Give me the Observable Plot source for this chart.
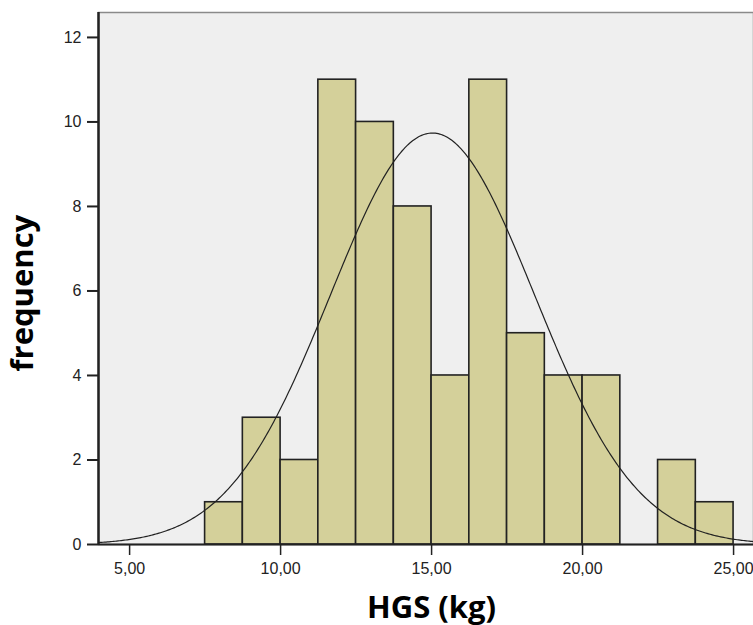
<!DOCTYPE html>
<html>
<head>
<meta charset="utf-8">
<script src="https://cdn.jsdelivr.net/npm/d3@7"></script>
<script src="https://cdn.jsdelivr.net/npm/@observablehq/plot@0.6"></script>
<style>
  html, body { margin: 0; padding: 0; background: #fff; }
  #chart svg { display: block; }
</style>
</head>
<body>
<div id="chart"></div>
<script>
// Histogram bins (HGS, kg), bin width 1.25
const binStarts = [7.5, 8.75, 10, 11.25, 12.5, 13.75, 15, 16.25, 17.5, 18.75, 20, 21.25, 22.5, 23.75];
const binWidth = 1.25;
const counts = [1, 3, 2, 11, 10, 8, 4, 11, 5, 4, 4, 0, 2, 1];
// Fitted normal curve parameters
const fitMean = 15.03;
const fitSD = 3.38;
const xTicks = [5, 10, 15, 20, 25];
const yTicks = [0, 2, 4, 6, 8, 10, 12];
const xTitle = "HGS (kg)";
const yTitle = "frequency";

const bars = binStarts.map((s, i) => ({x1: s, x2: s + binWidth, y: counts[i]}));
const nTotal = d3.sum(counts);
const curveX = d3.range(3.97, 25.7, 0.05);
const curve = curveX.map(x => ({
  x,
  y: nTotal * binWidth / (fitSD * Math.sqrt(2 * Math.PI)) * Math.exp(-((x - fitMean) ** 2) / (2 * fitSD * fitSD))
}));
const fmt = d => d.toFixed(2).replace(".", ",");

const chart = Plot.plot({
  width: 753,
  height: 625,
  marginLeft: 98,
  marginRight: 0,
  marginTop: 12,
  marginBottom: 81,
  style: {fontFamily: "'Liberation Sans', Arial, sans-serif", background: "#fff"},
  x: {domain: [3.97, 25.66]},
  y: {domain: [0, 12.59]},
  marks: [
    Plot.frame({fill: "#efefef", stroke: "#8a8a8a", strokeWidth: 1.5}),
    Plot.rectY(bars, {x1: "x1", x2: "x2", y: "y", fill: "#d4d09a", stroke: "#222", strokeWidth: 1.6}),
    Plot.line(curve, {x: "x", y: "y", stroke: "#222", strokeWidth: 1.2}),
    Plot.ruleY([0], {stroke: "#222", strokeWidth: 2}),
    Plot.ruleX([3.97], {stroke: "#222", strokeWidth: 2.5}),
    Plot.axisY({ticks: yTicks, tickSize: 11, tickPadding: 6, tickFormat: d => String(d), label: null, fontSize: 16, color: "#222", strokeWidth: 2}),
    Plot.axisX({ticks: xTicks, tickSize: 11, tickPadding: 7, tickFormat: fmt, label: null, fontSize: 16, color: "#222", strokeWidth: 1.5}),
    Plot.text([xTitle], {x: 15, frameAnchor: "bottom", dy: 73, fontSize: 31, fontWeight: "bold", fontFamily: "'Open Sans', sans-serif", fill: "#000"}),
    Plot.text([yTitle], {y: 5.95, frameAnchor: "left", textAnchor: "middle", dx: -75, rotate: -90, fontSize: 31, fontWeight: "bold", fontFamily: "'Open Sans', sans-serif", fill: "#000"})
  ]
});
document.getElementById("chart").append(chart);
</script>
</body>
</html>
